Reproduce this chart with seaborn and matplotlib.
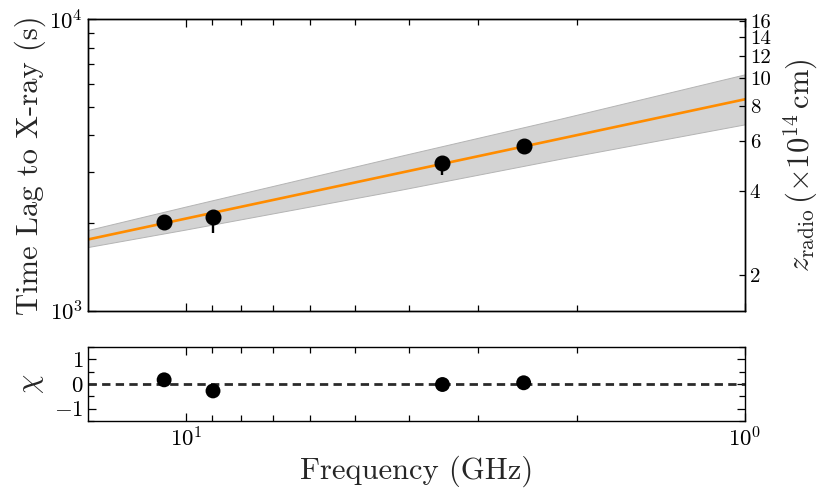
import numpy as np
import matplotlib
matplotlib.use('Agg')
import matplotlib.pyplot as plt
import matplotlib.ticker as mticker
import seaborn as sns
import pandas as pd

freq = [10.96, 8.96, 3.48, 2.49]
lag = [2011, 2102, 3220, 3684]
lag_err_lo = [80, 258, 298, 90]
lag_err_hi = [80, 60, 100, 90]
chi = [0.17, -0.28, -0.02, 0.05]

# best-fit power law and its uncertainty band
fit_freq = [15.0, 1.0]
fit_lag = [1756, 5316]
band_freq = [15.0, 10.0, 4.13, 2.14, 1.0]
band_hi = [1892, 2280, 3403, 4560, 6476]
band_lo = [1654, 1901, 2602, 3323, 4362]

z_ticks = [2, 4, 6, 8, 10, 12, 14, 16]

sns.set_style('ticks')
plt.rcParams['font.family'] = 'serif'
plt.rcParams['font.serif'] = ['cmr10']
plt.rcParams['mathtext.fontset'] = 'cm'
plt.rcParams['axes.formatter.use_mathtext'] = True
plt.rcParams['axes.unicode_minus'] = True
plt.rcParams['axes.linewidth'] = 1.0
plt.rcParams['axes.edgecolor'] = 'black'
for a in ['x', 'y']:
    plt.rcParams[f'{a}tick.direction'] = 'in'
    plt.rcParams[f'{a}tick.major.size'] = 5.5
    plt.rcParams[f'{a}tick.minor.size'] = 4.0
    plt.rcParams[f'{a}tick.major.width'] = 0.9
    plt.rcParams[f'{a}tick.minor.width'] = 0.9
    plt.rcParams[f'{a}tick.labelsize'] = 16.5
    plt.rcParams[f'{a}tick.color'] = 'black'

fig = plt.figure(figsize=(8.31, 4.98), dpi=100)
ax = fig.add_axes([0.1059, 0.3761, 0.7906, 0.5851])
axr = fig.add_axes([0.1059, 0.1546, 0.7906, 0.1486])

df = pd.DataFrame({'freq': freq, 'lag': lag, 'chi': chi})
fit_df = pd.DataFrame({'freq': fit_freq, 'lag': fit_lag})

# --- top panel ---
ax.fill_between(band_freq, band_lo, band_hi, facecolor='lightgray',
                edgecolor='#b4b4b4', lw=0.7, zorder=1)
sns.lineplot(data=fit_df, x='freq', y='lag', ax=ax, color='darkorange',
             lw=1.9, zorder=2, legend=False)
ax.errorbar(freq, lag, yerr=[lag_err_lo, lag_err_hi], fmt='o', color='black',
            ms=10.5, elinewidth=1.7, capsize=0, zorder=3)
ax.set_xscale('log')
ax.set_yscale('log')
ax.set_xlim(15, 1)
ax.set_ylim(1e3, 1e4)
ax.set_xlabel('')
ax.set_ylabel('Time Lag to X-ray (s)', fontsize=22)
ax.yaxis.set_label_coords(-0.064, 0.5)
ax.tick_params(which='both', top=True, bottom=True, right=False, labelbottom=False)
ax.xaxis.set_minor_formatter(mticker.NullFormatter())
ax.yaxis.set_minor_formatter(mticker.NullFormatter())

ax2 = ax.twinx()
ax2.set_yscale('log')
ax2.set_ylim(1.5, 16.2)
ax2.set_yticks(z_ticks)
ax2.yaxis.set_major_formatter(mticker.FixedFormatter([str(t) for t in z_ticks]))
ax2.yaxis.set_minor_locator(mticker.NullLocator())
ax2.tick_params(axis='y', which='major', length=4.0, direction='in', labelsize=15)
ax2.set_ylabel(r'$z_{\rm radio}\,(\times 10^{14}\,{\rm cm})$', fontsize=22)
ax2.yaxis.set_label_coords(1.056, 0.5)

# --- residual panel ---
axr.axhline(0, color='#2a2a2a', lw=2.0, ls=(0, (3.0, 1.9)), zorder=1)
sns.scatterplot(data=df, x='freq', y='chi', ax=axr, color='black', s=115,
                edgecolor='none', zorder=3, legend=False)
axr.set_xscale('log')
axr.set_xlim(15, 1)
axr.set_ylim(-1.5, 1.5)
axr.set_yticks([-1, 0, 1])
axr.yaxis.set_minor_locator(mticker.MultipleLocator(0.5))
axr.xaxis.set_minor_formatter(mticker.NullFormatter())
axr.tick_params(which='both', top=True, right=True)
axr.set_xlabel('Frequency (GHz)', fontsize=22)
axr.set_ylabel(r'$\chi$', fontsize=22)
axr.yaxis.set_label_coords(-0.064, 0.5)

fig.savefig('out.png', dpi=100)
